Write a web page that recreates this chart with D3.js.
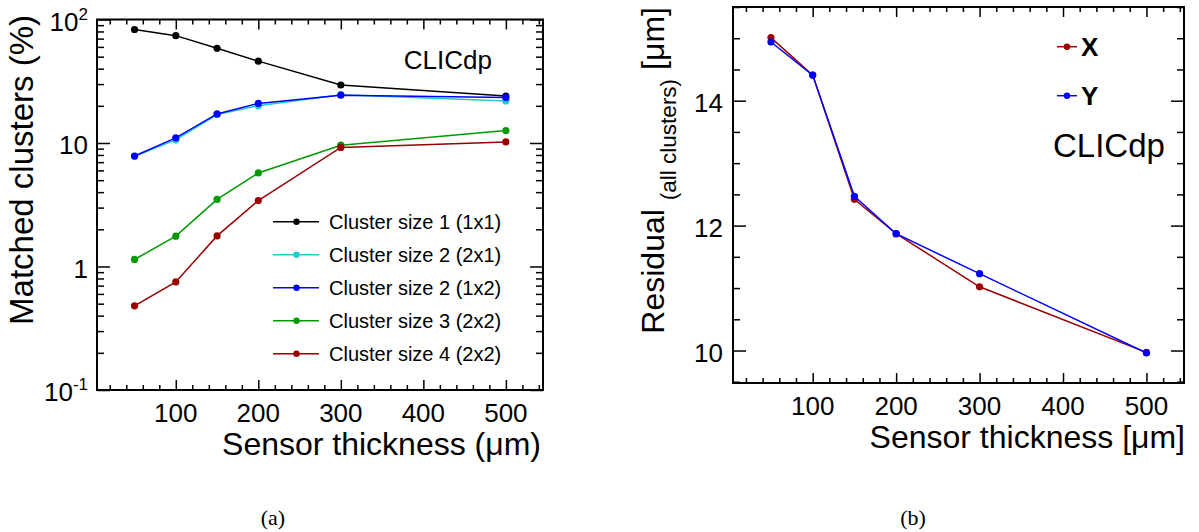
<!DOCTYPE html>
<html>
<head>
<meta charset="utf-8">
<script src="https://cdn.jsdelivr.net/npm/d3@7"></script>
<style>
  body { margin: 0; background: #fff; }
  svg { display: block; }
  text { font-family: "Liberation Sans", Arial, Helvetica, sans-serif; fill: #000; }
</style>
</head>
<body>
<svg id="chart" width="1199" height="532"></svg>
<script>
// Sensor thickness points (µm)
const thickness = [50, 100, 150, 200, 300, 500];

// (a) fraction of matched clusters per cluster shape (%)
const size1_1x1 = [83, 74, 58.5, 46, 29.5, 24.0];
const size2_2x1 = [7.8, 10.6, 17.0, 20.0, 24.6, 21.9];
const size2_1x2 = [7.85, 11.0, 17.2, 20.9, 24.4, 23.4];
const size3_2x2 = [1.14, 1.76, 3.49, 5.72, 9.6, 12.6];
const size4_2x2 = [0.48, 0.75, 1.77, 3.42, 9.2, 10.2];
const clusterLabels = ["Cluster size 1 (1x1)", "Cluster size 2 (2x1)", "Cluster size 2 (1x2)",
                       "Cluster size 3 (2x2)", "Cluster size 4 (2x2)"];
const clusterColors = ["#000000", "#22cccc", "#0000ff", "#009a00", "#990000"];

// (b) residual over all clusters (µm)
const residualX = [15.01, 14.41, 12.42, 11.87, 11.02, 9.97];
const residualY = [14.94, 14.41, 12.47, 11.87, 11.23, 9.96];
const residualLabels = ["X", "Y"];
const residualColors = ["#990000", "#0000ff"];

// Axis ticks and labels
const xMajorTicks = [100, 200, 300, 400, 500];
const xMinorTicks = d3.range(20, 545, 20).filter(v => v % 100 !== 0);
const logTickValues = [0.1, 1, 10, 100];
const logTickText = [["10", "-1"], ["1", ""], ["10", ""], ["10", "2"]];
const resMajorTicks = [10, 12, 14];
const resMinorTicks = d3.range(9.5, 15.51, 0.5).filter(v => !resMajorTicks.includes(v));

const svg = d3.select("#chart");

function drawFrame(g, x, y, yMajor, yMinor, ytickLen) {
  const [x0, x1] = x.range();
  const [y1, y0] = y.range();
  const tickStyle = sel => {
    sel.select(".domain").remove();
    sel.selectAll(".tick line").attr("stroke", "#000").attr("stroke-width", 1.5);
  };
  // x ticks, bottom and top, pointing inward
  g.append("g").attr("transform", `translate(0,${y1})`)
    .call(d3.axisBottom(x).tickValues(xMajorTicks).tickSize(-10).tickFormat("")).call(tickStyle);
  g.append("g").attr("transform", `translate(0,${y1})`)
    .call(d3.axisBottom(x).tickValues(xMinorTicks).tickSize(-5).tickFormat("")).call(tickStyle);
  g.append("g").attr("transform", `translate(0,${y0})`)
    .call(d3.axisTop(x).tickValues(xMajorTicks).tickSize(-10).tickFormat("")).call(tickStyle);
  g.append("g").attr("transform", `translate(0,${y0})`)
    .call(d3.axisTop(x).tickValues(xMinorTicks).tickSize(-5).tickFormat("")).call(tickStyle);
  // y ticks, left and right
  g.append("g").attr("transform", `translate(${x0},0)`)
    .call(d3.axisLeft(y).tickValues(yMajor).tickSize(-ytickLen).tickFormat("")).call(tickStyle);
  g.append("g").attr("transform", `translate(${x0},0)`)
    .call(d3.axisLeft(y).tickValues(yMinor).tickSize(-7).tickFormat("")).call(tickStyle);
  g.append("g").attr("transform", `translate(${x1},0)`)
    .call(d3.axisRight(y).tickValues(yMajor).tickSize(-ytickLen).tickFormat("")).call(tickStyle);
  g.append("g").attr("transform", `translate(${x1},0)`)
    .call(d3.axisRight(y).tickValues(yMinor).tickSize(-7).tickFormat("")).call(tickStyle);
  g.append("rect").attr("x", x0).attr("y", y0).attr("width", x1 - x0).attr("height", y1 - y0)
    .attr("fill", "none").attr("stroke", "#000").attr("stroke-width", 2);
  // x tick labels
  g.append("g").selectAll("text").data(xMajorTicks).join("text")
    .attr("x", d => x(d)).attr("y", y1 + 32)
    .attr("text-anchor", "middle").style("font-size", "26px").text(d => d);
}

function drawSeries(g, x, y, values, color) {
  const pts = thickness.map((t, i) => [t, values[i]]);
  g.append("path").datum(pts)
    .attr("d", d3.line().x(d => x(d[0])).y(d => y(d[1])))
    .attr("fill", "none").attr("stroke", color).attr("stroke-width", 1.5);
  g.append("g").selectAll("circle").data(pts).join("circle")
    .attr("cx", d => x(d[0])).attr("cy", d => y(d[1])).attr("r", 3.6).attr("fill", color);
}

// ---------- (a) matched clusters ----------
{
  const g = svg.append("g");
  const x = d3.scaleLinear().domain([4.5, 545]).range([97, 543]);
  const y = d3.scaleLog().domain([0.1, 100]).range([390, 19.5]);
  const minor = [];
  [0.1, 1, 10].forEach(dec => d3.range(2, 10).forEach(k => minor.push(k * dec)));
  drawFrame(g, x, y, logTickValues, minor, 13);

  // y tick labels with superscript exponents
  logTickText.forEach(([base, sup], i) => {
    const t = g.append("text").attr("x", 88).attr("y", y(logTickValues[i]) + 11)
      .attr("text-anchor", "end").style("font-size", "26px");
    t.append("tspan").text(base);
    if (sup) t.append("tspan").attr("dy", -11).style("font-size", "17px").text(sup);
  });

  const series = [size1_1x1, size2_2x1, size2_1x2, size3_2x2, size4_2x2];
  series.forEach((s, i) => drawSeries(g, x, y, s, clusterColors[i]));

  // legend
  clusterLabels.forEach((lab, i) => {
    const ly = 221.7 + 33 * i;
    g.append("line").attr("x1", 273).attr("x2", 319).attr("y1", ly).attr("y2", ly)
      .attr("stroke", clusterColors[i]).attr("stroke-width", 1.5);
    g.append("circle").attr("cx", 296.5).attr("cy", ly).attr("r", 3.2).attr("fill", clusterColors[i]);
    g.append("text").attr("x", 329).attr("y", ly + 7).style("font-size", "20px").text(lab);
  });

  g.append("text").attr("x", 492).attr("y", 69).attr("text-anchor", "end")
    .style("font-size", "26px").text("CLICdp");

  g.append("text").attr("transform", "translate(33,15) rotate(-90)")
    .attr("text-anchor", "end").style("font-size", "33px").text("Matched clusters (%)");
  g.append("text").attr("x", 541).attr("y", 455).attr("text-anchor", "end")
    .style("font-size", "32px").text("Sensor thickness (μm)");
  g.append("text").attr("x", 273).attr("y", 525).attr("text-anchor", "middle")
    .style("font-family", "'Liberation Serif', 'Times New Roman', serif").style("font-size", "22px").text("(a)");
}

// ---------- (b) residuals ----------
{
  const g = svg.append("g");
  const x = d3.scaleLinear().domain([4.5, 545]).range([733, 1184]);
  const y = d3.scaleLinear().domain([9.48, 15.5]).range([383, 7]);
  drawFrame(g, x, y, resMajorTicks, resMinorTicks, 13);

  g.append("g").selectAll("text").data(resMajorTicks).join("text")
    .attr("x", 723).attr("y", d => y(d) + 11).attr("text-anchor", "end")
    .style("font-size", "26px").text(d => d);

  [residualX, residualY].forEach((s, i) => drawSeries(g, x, y, s, residualColors[i]));

  residualLabels.forEach((lab, i) => {
    const ly = 46.7 + 49 * i;
    g.append("line").attr("x1", 1057).attr("x2", 1077).attr("y1", ly).attr("y2", ly)
      .attr("stroke", residualColors[i]).attr("stroke-width", 1.5);
    g.append("circle").attr("cx", 1067).attr("cy", ly).attr("r", 3.2).attr("fill", residualColors[i]);
    g.append("text").attr("x", 1081).attr("y", ly + 9.5).style("font-size", "26px")
      .style("font-weight", "bold").text(lab);
  });

  g.append("text").attr("x", 1053).attr("y", 156.5).style("font-size", "33px").text("CLICdp");

  const yt = g.append("text").attr("transform", "translate(664,7) rotate(-90)")
    .attr("text-anchor", "end").style("font-size", "32px");
  yt.append("tspan").text("Residual");
  yt.append("tspan").attr("dx", 9).attr("dy", 12).style("font-size", "22.5px").text("(all clusters)");
  yt.append("tspan").attr("dx", 9).attr("dy", -12).text("[μm]");

  g.append("text").attr("x", 1185).attr("y", 448).attr("text-anchor", "end")
    .style("font-size", "32px").text("Sensor thickness [μm]");
  g.append("text").attr("x", 913).attr("y", 525).attr("text-anchor", "middle")
    .style("font-family", "'Liberation Serif', 'Times New Roman', serif").style("font-size", "22px").text("(b)");
}
</script>
</body>
</html>
